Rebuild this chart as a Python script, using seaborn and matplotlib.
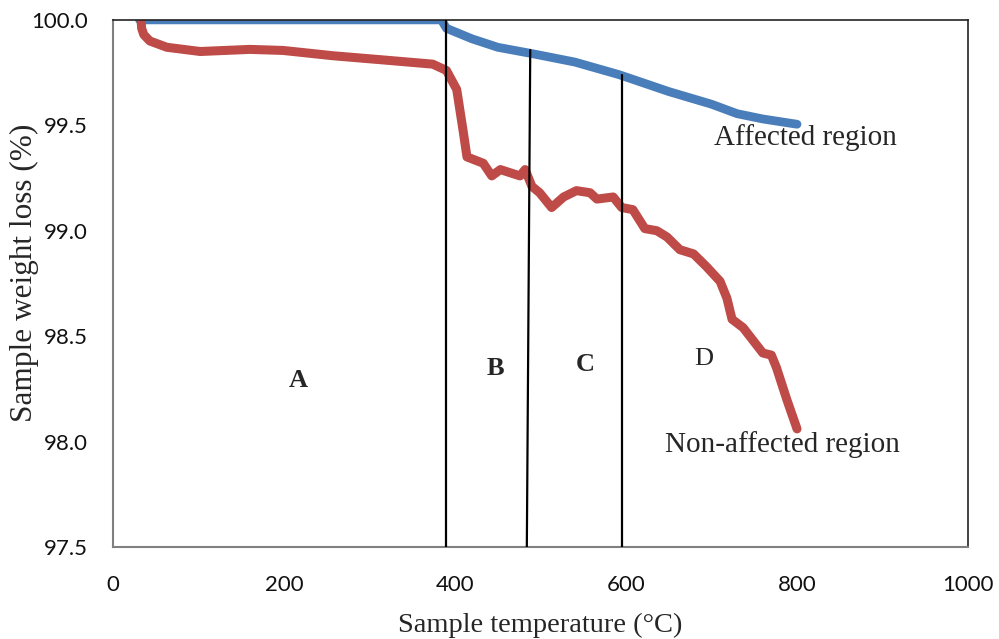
import matplotlib
matplotlib.use("Agg")
import matplotlib.pyplot as plt
import seaborn as sns
import pandas as pd

# Affected region (blue)
aff_t = [31, 100, 200, 300, 384, 390, 420, 450, 490, 540, 592, 650, 700, 730, 760, 800]
aff_w = [100.0, 100.0, 100.0, 100.0, 100.0, 99.96, 99.91, 99.87, 99.84, 99.80, 99.74, 99.66, 99.60, 99.555, 99.53, 99.505]

# Non-affected region (red)
non_t = [33, 33.5, 36, 43, 63, 102, 160, 199, 257, 316, 374, 390, 402, 410, 414, 433, 443, 453, 476,
         482, 490, 499, 513, 527, 542, 558, 566, 585, 595, 608, 622, 636, 648, 663, 679, 694,
         710, 718, 724, 737, 760, 770, 776, 788, 800]
non_w = [99.99, 99.96, 99.93, 99.90, 99.87, 99.85, 99.86, 99.855, 99.83, 99.81, 99.79, 99.76, 99.67,
         99.46, 99.35, 99.32, 99.26, 99.29, 99.26, 99.29, 99.21, 99.18, 99.11, 99.16, 99.19, 99.18,
         99.15, 99.16, 99.11, 99.10, 99.01, 99.00, 98.97, 98.91, 98.89, 98.83, 98.76, 98.68, 98.58,
         98.54, 98.42, 98.41, 98.35, 98.20, 98.06]

# Region boundary lines (x bottom, x top, y top)
bound_x_bottom = [389.5, 484, 595]
bound_x_top = [389.5, 488, 595]
bound_y_top = [100.0, 99.857, 99.74]

region_labels = ["A", "B", "C", "D"]
region_bold = [True, True, True, False]
region_x = [217, 447, 552, 691]
region_y = [98.29, 98.345, 98.365, 98.39]

sns.set_theme(style="white")
plt.rcParams["font.family"] = ["Liberation Serif", "DejaVu Serif"]

fig = plt.figure(figsize=(9.99, 6.39), dpi=100)
ax = fig.add_axes([0.1131, 0.144, 0.8559, 0.8249])

df_a = pd.DataFrame({"t": aff_t, "w": aff_w})
df_n = pd.DataFrame({"t": non_t, "w": non_w})
sns.lineplot(data=df_a, x="t", y="w", ax=ax, color="#4A7EBB", linewidth=6.3,
             solid_capstyle="round", solid_joinstyle="round", sort=False)
sns.lineplot(data=df_n, x="t", y="w", ax=ax, color="#BE4B48", linewidth=6.5,
             solid_capstyle="round", solid_joinstyle="round", sort=False)

for xb, xt, yt in zip(bound_x_bottom, bound_x_top, bound_y_top):
    ax.plot([xb, xt], [97.5, yt], color="black", linewidth=1.6, zorder=5)

for lab, b, x, y in zip(region_labels, region_bold, region_x, region_y):
    ax.text(x, y, lab, fontsize=19, fontweight="bold" if b else "normal",
            ha="center", va="center")

ax.text(810, 99.44, "Affected region", fontsize=21, ha="center", va="center")
ax.text(783, 97.985, "Non-affected region", fontsize=21, ha="center", va="center")

ax.set_xlim(0, 1000)
ax.set_ylim(97.5, 100.0)
ax.set_xticks([0, 200, 400, 600, 800, 1000])
ax.set_yticks([97.5, 98.0, 98.5, 99.0, 99.5, 100.0])
ax.set_yticklabels(["97.5", "98.0", "98.5", "99.0", "99.5", "100.0"])
for lab in ax.get_xticklabels() + ax.get_yticklabels():
    lab.set_fontfamily(["Lato", "DejaVu Sans"])
    lab.set_fontsize(16)
    lab.set_color("#111111")
ax.tick_params(axis="y", length=0, pad=18)
ax.tick_params(axis="x", length=0, pad=20)

ax.set_xlabel("Sample temperature (°C)", fontsize=20.5)
ax.set_ylabel("Sample weight loss (%)", fontsize=22.5)
ax.xaxis.label.set_va("center")
ax.yaxis.label.set_va("center")
ax.xaxis.set_label_coords(0.5, -0.148)
ax.yaxis.set_label_coords(-0.104, 0.52)

for side in ["left", "bottom"]:
    ax.spines[side].set_color("#808080")
    ax.spines[side].set_linewidth(1.5)
for side in ["top", "right"]:
    ax.spines[side].set_color("#222222")
    ax.spines[side].set_linewidth(1.2)

fig.savefig("out.png", dpi=100)
